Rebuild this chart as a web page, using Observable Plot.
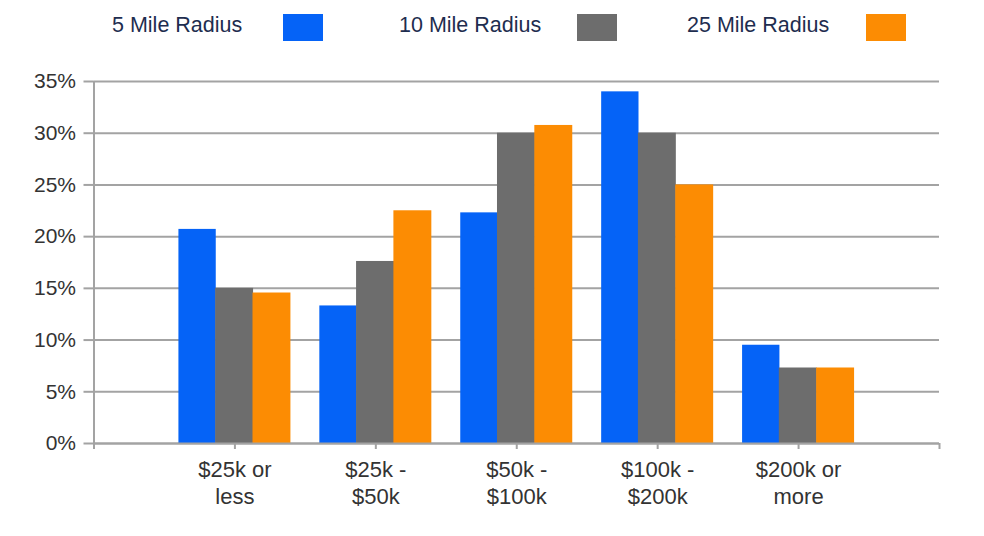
<!DOCTYPE html>
<html><head><meta charset="utf-8">
<script src="https://cdn.jsdelivr.net/npm/d3@7"></script>
<script src="https://cdn.jsdelivr.net/npm/@observablehq/plot@0.6"></script>
<style>
html,body{margin:0;padding:0;background:#fff;overflow:hidden;}
#legend{position:relative;height:55px;font-family:"Liberation Sans",Arial,sans-serif;font-size:21.5px;color:#1e2d4f;}
#legend .t{position:absolute;top:15px;line-height:1;white-space:nowrap;}
#legend .s{position:absolute;top:14px;width:40px;height:27px;box-sizing:border-box;}
#chart svg{display:block;}
</style></head><body>
<div id="legend"></div>
<div id="chart"></div>
<script>
// ---- data ----
const categories = ["$25k or\nless", "$25k -\n$50k", "$50k -\n$100k", "$100k -\n$200k", "$200k or\nmore"];
const series = ["5 Mile Radius", "10 Mile Radius", "25 Mile Radius"];
const mile5 = [20.7, 13.3, 22.3, 34.0, 9.5];
const mile10 = [15.0, 17.6, 30.0, 30.0, 7.3];
const mile25 = [14.55, 22.5, 30.75, 25.0, 7.3];
const yTicks = [0, 5, 10, 15, 20, 25, 30, 35];

// ---- styles / layout ----
const colors = ["#0563f7", "#6d6d6d", "#fc8c03"];
const legendTextX = [112, 399, 687];
const legendSwatchX = [283, 577, 866];
const gridColor = "#a3a3a3";

// legend
const legend = document.getElementById("legend");
series.forEach((s, j) => {
  const t = document.createElement("span");
  t.className = "t"; t.textContent = s; t.style.left = legendTextX[j] + "px";
  const sw = document.createElement("span");
  sw.className = "s"; sw.style.left = legendSwatchX[j] + "px"; sw.style.background = colors[j];
  legend.appendChild(t); legend.appendChild(sw);
});

// table built from the arrays
const valuesBySeries = [mile5, mile10, mile25];
const data = categories.flatMap((c, i) => series.map((s, j) => ({category: c, series: s, value: valuesBySeries[j][i]})));

const W = 984, H = 481;
const mL = 93.5, mR = 45, mT = 26, mB = 93;
const left = mL, right = W - mR;
const step = (right - left) / 6;
const groupW = 112;
const pInner = 1 - groupW / step;
const xDomain = ["", ...categories, " "];
const barW = groupW / 3;

const chart = Plot.plot({
  width: W, height: H,
  marginLeft: mL, marginRight: mR, marginTop: mT, marginBottom: mB,
  style: {fontFamily: "'Liberation Sans', Arial, sans-serif", background: "#fff"},
  x: {type: "band", domain: xDomain, range: [left - step / 2, right + step / 2], paddingInner: pInner, paddingOuter: pInner / 2, round: false},
  y: {domain: [0, 35]},
  marks: [
    Plot.gridY(yTicks, {stroke: gridColor, strokeOpacity: 1, strokeWidth: 2}),
    ...series.map((s, j) => Plot.barY(data.filter(d => d.series === s), {
      x: "category", y: "value", fill: colors[j],
      insetLeft: j === 0 ? 0 : j * barW - 0.6, insetRight: (2 - j) * barW
    })),
    Plot.ruleY([0], {stroke: gridColor, strokeWidth: 2}),
    Plot.ruleX([""], {y1: 0, y2: 35, stroke: gridColor, strokeWidth: 2}),
    Plot.axisY({ticks: yTicks, tickSize: 10, tickPadding: 8, tickFormat: d => d + "%", fontSize: 21,
      stroke: gridColor, strokeWidth: 2, fill: "#333", label: null}),
    Plot.axisX({tickSize: 6, tickPadding: 8, fontSize: 22, lineHeight: 1.23,
      stroke: gridColor, strokeWidth: 2, fill: "#333", label: null})
  ]
});
document.getElementById("chart").appendChild(chart);
</script>
</body></html>
